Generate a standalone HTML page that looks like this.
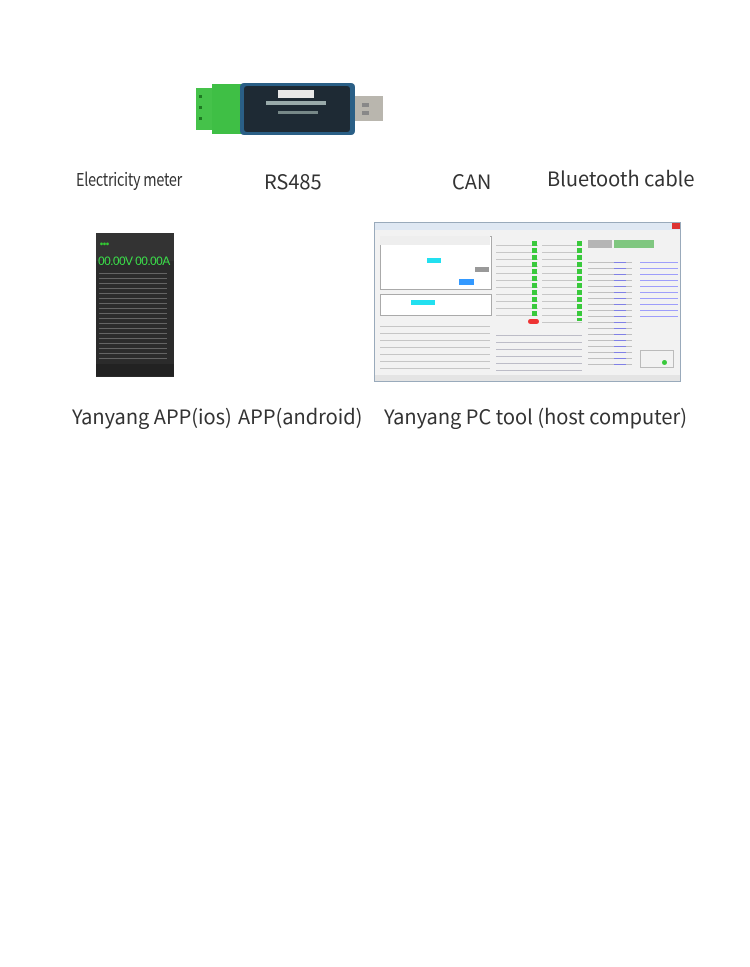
<!DOCTYPE html>
<html><head><meta charset="utf-8"><style>
html,body{margin:0;padding:0;background:#fff;}
body{width:750px;height:967px;position:relative;overflow:hidden;font-family:"Noto Sans CJK SC","Liberation Sans",sans-serif;color:#333;}
.a{position:absolute;}
.t{position:absolute;white-space:nowrap;font-size:19px;line-height:1;color:#333;}
</style></head><body>

<!-- USB RS485 device -->
<div class="a" style="left:196px;top:88px;width:16px;height:42px;background:#45c24a;"></div>
<div class="a" style="left:212px;top:84px;width:30px;height:50px;background:#3fbf45;"></div>
<div class="a" style="left:199px;top:95px;width:3px;height:3px;background:#1d7a22;"></div>
<div class="a" style="left:199px;top:106px;width:3px;height:3px;background:#1d7a22;"></div>
<div class="a" style="left:199px;top:117px;width:3px;height:3px;background:#1d7a22;"></div>
<div class="a" style="left:240px;top:83px;width:115px;height:52px;background:#2a5f86;border-radius:4px;"></div>
<div class="a" style="left:244px;top:86px;width:106px;height:46px;background:#1e2a34;border-radius:3px;"></div>
<div class="a" style="left:278px;top:90px;width:36px;height:8px;background:#e8e8e8;"></div>
<div class="a" style="left:266px;top:101px;width:60px;height:4px;background:#9aa;"></div>
<div class="a" style="left:278px;top:111px;width:40px;height:3px;background:#788;"></div>
<div class="a" style="left:355px;top:96px;width:28px;height:25px;background:#b9b6ae;"></div>
<div class="a" style="left:362px;top:103px;width:7px;height:4px;background:#888;"></div>
<div class="a" style="left:362px;top:111px;width:7px;height:4px;background:#888;"></div>

<!-- labels row 1 -->
<div class="t" style="left:76px;top:170px;font-size:18px;letter-spacing:-0.3px;transform:scaleX(0.8);transform-origin:left;">Electricity meter</div>
<div class="t" style="left:264px;top:171px;font-size:20px;">RS485</div>
<div class="t" style="left:452px;top:171px;font-size:20px;">CAN</div>
<div class="t" style="left:547px;top:168px;font-size:20px;">Bluetooth cable</div>

<!-- phone -->
<div class="a" style="left:96px;top:233px;width:78px;height:144px;background:#2b2b2b;"></div>
<div class="a" style="left:96px;top:233px;width:78px;height:28px;background:#333;"></div>
<div class="a" style="left:100px;top:242px;font-size:3px;color:#3c3;">●●●</div>
<div class="t" style="left:98px;top:255px;font-size:12px;color:#3be04a;letter-spacing:-0.6px;font-family:'Liberation Sans',sans-serif;">00.00V 00.00A</div>
<div class="a" style="left:99px;top:270px;width:68px;height:90px;background:repeating-linear-gradient(#2b2b2b 0 3px,#8a8a8a 3px 4px,#2b2b2b 4px 5px);opacity:.6;"></div>
<div class="a" style="left:96px;top:364px;width:78px;height:12px;background:#222;"></div>

<!-- PC tool -->
<div class="a" style="left:374px;top:222px;width:307px;height:160px;background:#f2f2f2;border:1px solid #9ab;box-sizing:border-box;"></div>
<div class="a" style="left:375px;top:223px;width:305px;height:7px;background:#dfe8f3;"></div>
<div class="a" style="left:672px;top:223px;width:8px;height:6px;background:#d33;"></div>
<div class="a" style="left:380px;top:236px;width:110px;height:52px;background:#fff;border:1px solid #aaa;"></div>
<div class="a" style="left:380px;top:236px;width:110px;height:9px;background:#eee;"></div>
<div class="a" style="left:427px;top:258px;width:14px;height:5px;background:#22e0f0;"></div>
<div class="a" style="left:459px;top:279px;width:15px;height:6px;background:#3399ff;"></div>
<div class="a" style="left:475px;top:267px;width:14px;height:5px;background:#999;"></div>
<div class="a" style="left:380px;top:294px;width:110px;height:20px;background:#fff;border:1px solid #aaa;"></div>
<div class="a" style="left:411px;top:300px;width:24px;height:5px;background:#22e0f0;"></div>
<div class="a" style="left:380px;top:320px;width:110px;height:54px;background:repeating-linear-gradient(#f2f2f2 0 6px,#999 6px 7px);opacity:.5;"></div>
<div class="a" style="left:496px;top:240px;width:42px;height:78px;background:repeating-linear-gradient(#f2f2f2 0 5px,#aaa 5px 6px,#f2f2f2 6px 7px);opacity:.6;"></div>
<div class="a" style="left:542px;top:240px;width:40px;height:86px;background:repeating-linear-gradient(#f2f2f2 0 5px,#aaa 5px 6px,#f2f2f2 6px 7px);opacity:.6;"></div>
<div class="a" style="left:532px;top:241px;width:5px;height:76px;background:repeating-linear-gradient(#39c93c 0 5px,#f2f2f2 5px 7px);"></div>
<div class="a" style="left:577px;top:241px;width:5px;height:80px;background:repeating-linear-gradient(#39c93c 0 5px,#f2f2f2 5px 7px);"></div>
<div class="a" style="left:528px;top:319px;width:11px;height:5px;background:#e33;border-radius:3px;"></div>
<div class="a" style="left:496px;top:330px;width:86px;height:44px;background:repeating-linear-gradient(#f2f2f2 0 5px,#99a 5px 6px,#f2f2f2 6px 7px);opacity:.6;"></div>
<div class="a" style="left:588px;top:240px;width:24px;height:8px;background:#777;opacity:.5;"></div>
<div class="a" style="left:614px;top:240px;width:40px;height:8px;background:#3a3;opacity:.6;"></div>
<div class="a" style="left:588px;top:258px;width:44px;height:112px;background:repeating-linear-gradient(#f2f2f2 0 4px,#aaa 4px 5px,#f2f2f2 5px 6px);opacity:.7;"></div>
<div class="a" style="left:614px;top:258px;width:12px;height:112px;background:repeating-linear-gradient(#f2f2f2 0 4px,#55f 4px 5px,#f2f2f2 5px 6px);opacity:.6;"></div>
<div class="a" style="left:640px;top:258px;width:38px;height:60px;background:repeating-linear-gradient(#f2f2f2 0 4px,#66f 4px 5px,#f2f2f2 5px 6px);opacity:.6;"></div>
<div class="a" style="left:640px;top:350px;width:32px;height:16px;border:1px solid #bbb;"></div>
<div class="a" style="left:662px;top:360px;width:5px;height:5px;background:#39c93c;border-radius:50%;"></div>
<div class="a" style="left:375px;top:375px;width:305px;height:6px;background:#e4e4e4;"></div>

<!-- labels row 2 -->
<div class="t" style="left:72px;top:406px;font-size:20px;">Yanyang APP(ios)</div>
<div class="t" style="left:238px;top:406px;font-size:20px;">APP(android)</div>
<div class="t" style="left:384px;top:406px;font-size:20px;">Yanyang PC tool (host computer)</div>

</body></html>
